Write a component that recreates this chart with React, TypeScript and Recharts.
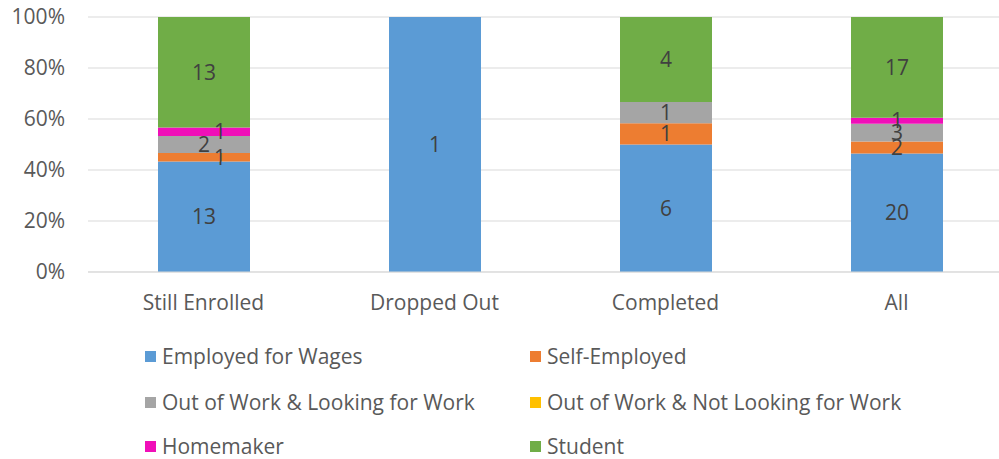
import React from "react";
import { BarChart, Bar, XAxis, YAxis, CartesianGrid, LabelList } from "recharts";

const categories = ["Still Enrolled", "Dropped Out", "Completed", "All"];

const seriesNames = [
  "Employed for Wages",
  "Self-Employed",
  "Out of Work & Looking for Work",
  "Out of Work & Not Looking for Work",
  "Homemaker",
  "Student",
];

const seriesColors = ["#5B9BD5", "#ED7D31", "#A5A5A5", "#FFC000", "#F00FB8", "#70AD47"];

// counts per category, one array per series
const employedForWages = [13, 1, 6, 20];
const selfEmployed = [1, 0, 1, 2];
const lookingForWork = [2, 0, 1, 3];
const notLookingForWork = [0, 0, 0, 0];
const homemaker = [1, 0, 0, 1];
const student = [13, 0, 4, 17];

const yTicks = [0, 0.2, 0.4, 0.6, 0.8, 1];

const seriesValues = [
  employedForWages,
  selfEmployed,
  lookingForWork,
  notLookingForWork,
  homemaker,
  student,
];

const chartData = categories.map((name, i) => {
  const row: any = { name };
  seriesNames.forEach((s, k) => {
    row["s" + k] = seriesValues[k][i];
  });
  return row;
});

// Excel nudges some crowded labels sideways
const labelShift: Record<string, number> = {
  "1-0": 16,
  "4-0": 16,
  "4-3": 23,
};

const FONT = "'Open Sans', 'Noto Sans', sans-serif";
const FS = 21;

const makeLabel = (k: number) => (props: any) => {
  const { x, y, width, height, value, index } = props;
  if (!value) return null;
  const dx = labelShift[k + "-" + index] || 0;
  return (
    <text
      x={x + width / 2 + dx}
      y={y + height / 2}
      dy="0.36em"
      textAnchor="middle"
      fill="#404040"
      fontSize={FS}
      fontFamily={FONT}
    >
      {value}
    </text>
  );
};

const App = () => {
  return (
    <div
      style={{
        position: "absolute",
        left: 0,
        top: 0,
        width: 999,
        height: 459,
        overflow: "hidden",
        fontFamily: FONT,
        background: "#fff",
      }}
    >
      <BarChart
        width={1012}
        height={459}
        data={chartData}
        stackOffset="expand"
        barSize={92}
        margin={{ top: 17, right: 0, left: 0, bottom: 157 }}
      >
        <CartesianGrid vertical={false} stroke="#d9d9d9" />
        <XAxis
          dataKey="name"
          axisLine={{ stroke: "#d9d9d9" }}
          tickLine={false}
          tickSize={0}
          tickMargin={23}
          height={30}
          tick={{ fill: "#595959", fontSize: FS, fontFamily: FONT }}
        />
        <YAxis
          width={88}
          domain={[0, 1]}
          ticks={yTicks}
          tickFormatter={(v: number) => Math.round(v * 100) + "%"}
          axisLine={false}
          tickLine={false}
          tickSize={0}
          tickMargin={23}
          tick={{ fill: "#595959", fontSize: FS, fontFamily: FONT }}
        />
        {seriesNames.map((s, k) => (
          <Bar
            key={s}
            dataKey={"s" + k}
            name={s}
            stackId="a"
            fill={seriesColors[k]}
            isAnimationActive={false}
          >
            <LabelList dataKey={"s" + k} content={makeLabel(k)} />
          </Bar>
        ))}
      </BarChart>
      {seriesNames.map((s, k) => {
        const col = k % 2;
        const row = Math.floor(k / 2);
        const top = [356, 402, 446][row];
        const left = col === 0 ? 145 : 530;
        return (
          <div
            key={s}
            style={{
              position: "absolute",
              left,
              top: top - 14,
              height: 28,
              display: "flex",
              alignItems: "center",
              fontSize: FS,
              color: "#595959",
              whiteSpace: "nowrap",
            }}
          >
            <span
              style={{
                display: "inline-block",
                width: 11,
                height: 11,
                background: seriesColors[k],
                marginRight: 6,
              }}
            />
            {s}
          </div>
        );
      })}
    </div>
  );
};

export default App;
